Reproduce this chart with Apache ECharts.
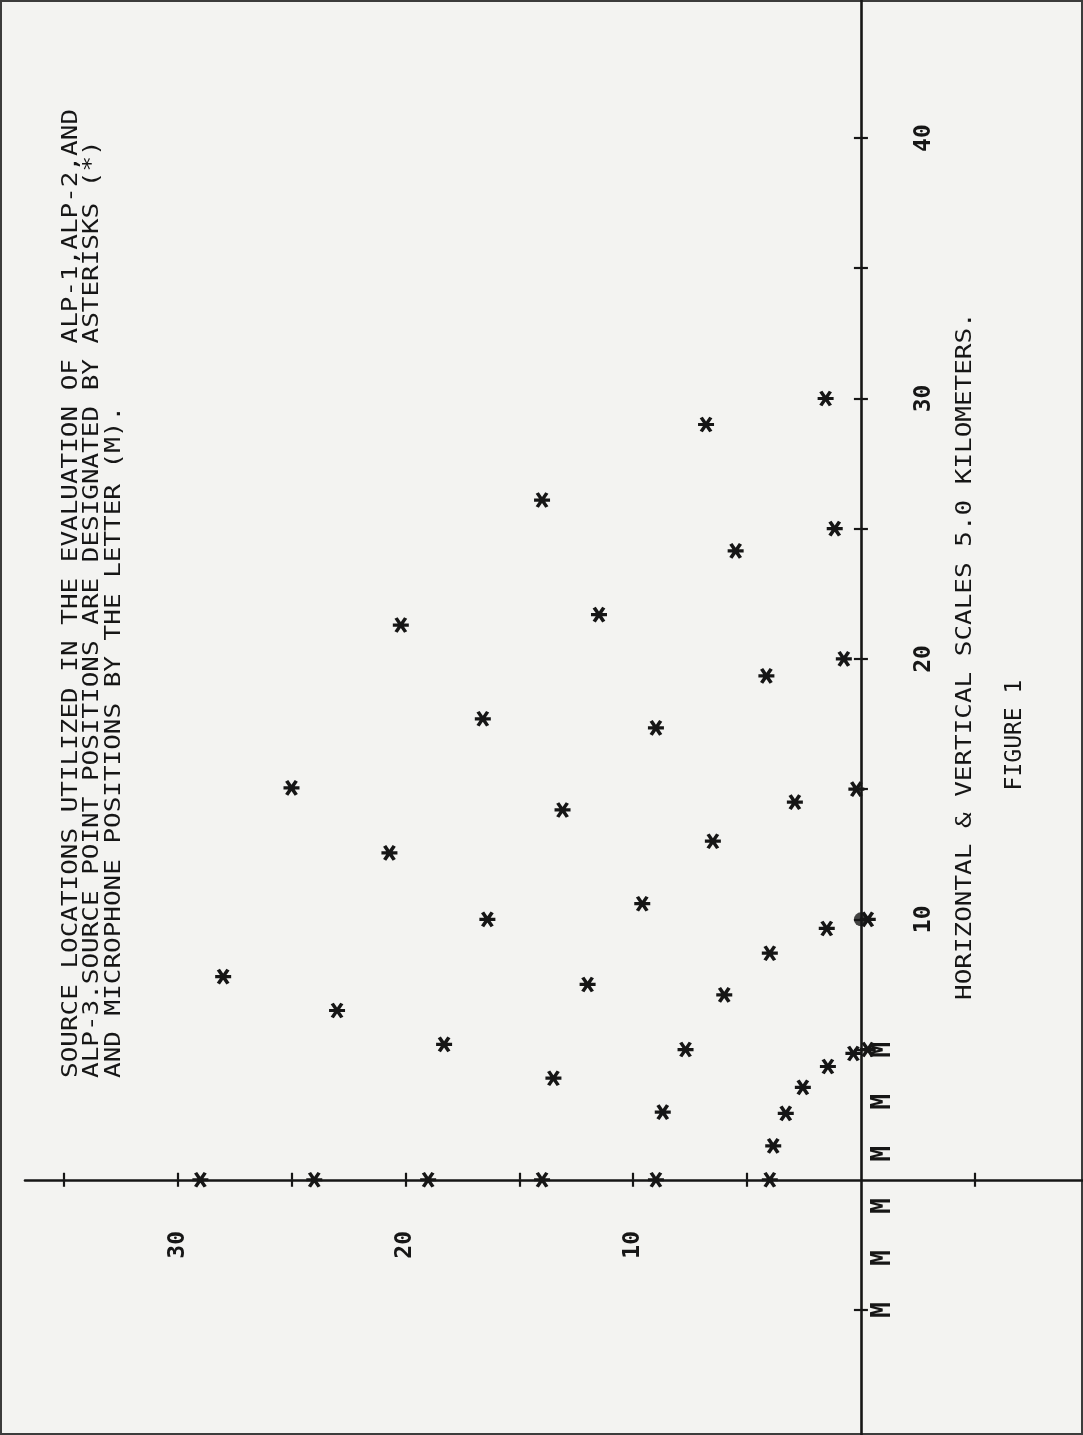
<!DOCTYPE html>
<html>
<head>
<meta charset="utf-8">
<script src="https://cdn.jsdelivr.net/npm/echarts@6/dist/echarts.min.js"></script>
<style>
html,body{margin:0;padding:0;background:#f3f3f1;overflow:hidden}
#chart{width:1083px;height:1435px}
</style>
</head>
<body>
<div id="chart"></div>
<script>
// Source point positions (vertical distance V, horizontal distance H), km-scale units
const sourceV = [28, 25, 23, 20.7, 20.2, 18.3, 16.6, 16.4, 14.0, 13.5, 13.1, 12.0, 11.5, 9.6, 9.0, 8.7, 7.7, 6.8, 6.5, 6.0, 5.5, 4.15, 4.0, 3.85, 3.3, 2.9, 2.55, 1.55, 1.5, 1.45, 1.15, 0.75, 0.33, 0.2, -0.3, -0.3, 4, 9, 14, 19, 24, 29];
const sourceH = [7.8, 15.05, 6.5, 12.55, 21.3, 5.2, 17.7, 10.0, 26.1, 3.9, 14.2, 7.5, 21.7, 10.6, 17.35, 2.6, 5.0, 29.0, 13.0, 7.1, 24.15, 19.35, 8.7, 1.3, 2.55, 14.5, 3.55, 30.0, 9.65, 4.35, 25.0, 20.0, 4.85, 15.0, 10.0, 5.0, 0, 0, 0, 0, 0, 0];
// Microphone positions
const micV = [-1, -1, -1, -1, -1, -1];
const micH = [5, 3, 1, -1, -3, -5];
// Filled dot
const dotV = [0];
const dotH = [10];
// Ticks and labels
const hTickValues = [-5, 5, 10, 15, 20, 25, 30, 35, 40];
const vTickValues = [-5, 5, 10, 15, 20, 25, 30, 35];
const hLabelValues = [10, 20, 30, 40];
const vLabelValues = [10, 20, 30];
// Texts
const titleLines = [
  'SOURCE LOCATIONS UTILIZED IN THE EVALUATION OF ALP-1,ALP-2,AND',
  'ALP-3.SOURCE POINT POSITIONS ARE DESIGNATED BY ASTERISKS (*)',
  'AND MICROPHONE POSITIONS BY THE LETTER (M).'
];
const scaleNote = 'HORIZONTAL & VERTICAL SCALES 5.0 KILOMETERS.';
const figureLabel = 'FIGURE 1';

const INK = '#161616';
const FONT = '"DejaVu Sans Mono", monospace';

const chart = echarts.init(document.getElementById('chart'), null, {renderer: 'canvas'});

const asterisk = 'path://M-10,0L10,0M-6,-8L6,8M-6,8L6,-8';

const axisLineStyle = {color: INK, width: 2.6};
const tickLineStyle = {color: INK, width: 2.2};

const option = {
  backgroundColor: '#f3f3f1',
  animation: false,
  grid: {left: 25, right: 0, top: 0, bottom: 0, containLabel: false, outerBoundsMode: 'none'},
  xAxis: [
    {
      type: 'value', min: -9.75, max: 36.7, inverse: true, position: 'bottom',
      axisLine: {show: true, onZero: true, onZeroAxisIndex: 0, lineStyle: axisLineStyle},
      axisTick: {show: true, length: 7, customValues: vTickValues, lineStyle: tickLineStyle},
      axisLabel: {show: true, customValues: vLabelValues, rotate: 90, margin: -204,
        fontFamily: FONT, fontSize: 23, fontWeight: 'bold', color: INK, formatter: v => String(v)},
      splitLine: {show: false}
    },
    {
      type: 'value', min: -9.75, max: 36.7, inverse: true, position: 'top',
      axisLine: {show: false, onZero: true, onZeroAxisIndex: 0},
      axisTick: {show: true, length: 7, customValues: vTickValues, lineStyle: tickLineStyle},
      axisLabel: {show: false},
      splitLine: {show: false}
    }
  ],
  yAxis: [
    {
      type: 'value', min: -9.8, max: 45.3, position: 'right',
      axisLine: {show: true, onZero: true, onZeroAxisIndex: 0, lineStyle: axisLineStyle},
      axisTick: {show: true, length: 7, customValues: hTickValues, lineStyle: tickLineStyle},
      axisLabel: {show: true, customValues: hLabelValues, rotate: 90, margin: -170,
        fontFamily: FONT, fontSize: 23, fontWeight: 'bold', color: INK, formatter: v => String(v)},
      splitLine: {show: false}
    },
    {
      type: 'value', min: -9.8, max: 45.3, position: 'left',
      axisLine: {show: false, onZero: true, onZeroAxisIndex: 0},
      axisTick: {show: true, length: 7, customValues: hTickValues, lineStyle: tickLineStyle},
      axisLabel: {show: false},
      splitLine: {show: false}
    }
  ],
  series: [
    {
      name: 'Source points', type: 'scatter', xAxisIndex: 0, yAxisIndex: 0,
      data: sourceV.map((v, i) => [v, sourceH[i]]),
      symbol: asterisk, symbolSize: [16, 14],
      itemStyle: {color: 'rgba(0,0,0,0)', borderColor: INK, borderWidth: 3.4, opacity: 1},
      z: 5
    },
    {
      name: 'Dot', type: 'scatter', xAxisIndex: 0, yAxisIndex: 0,
      data: dotV.map((v, i) => [v, dotH[i]]),
      symbol: 'circle', symbolSize: 14,
      itemStyle: {color: INK},
      z: 6
    },
    {
      name: 'Microphones', type: 'scatter', xAxisIndex: 0, yAxisIndex: 0,
      data: micV.map((v, i) => [v, micH[i]]),
      symbol: 'circle', symbolSize: 0,
      itemStyle: {color: INK},
      label: {show: true, position: 'inside', formatter: 'M', rotate: 90,
        fontFamily: FONT, fontSize: 26, fontWeight: 'bold', color: INK,
        textBorderWidth: 0, opacity: 1},
      z: 6
    }
  ],
  graphic: [
    {type: 'rect', silent: true, shape: {x: 1, y: 1, width: 1081, height: 1433},
      style: {fill: 'none', stroke: '#3c3c3c', lineWidth: 2}},
    ...titleLines.map((t, i) => ({
      type: 'text', x: 71 + i * 21.5, y: 1078, rotation: Math.PI / 2, scaleX: 1.18, silent: true,
      style: {text: t, font: '22px ' + FONT, fill: INK, align: 'left', verticalAlign: 'middle'}
    })),
    {type: 'text', x: 965, y: 1000, rotation: Math.PI / 2, scaleX: 1.18, silent: true,
      style: {text: scaleNote, font: '22px ' + FONT, fill: INK, align: 'left', verticalAlign: 'middle'}},
    {type: 'text', x: 1015, y: 735, rotation: Math.PI / 2, scaleX: 1.0, silent: true,
      style: {text: figureLabel, font: '23px ' + FONT, fill: INK, align: 'center', verticalAlign: 'middle'}}
  ]
};

chart.setOption(option);
</script>
</body>
</html>
